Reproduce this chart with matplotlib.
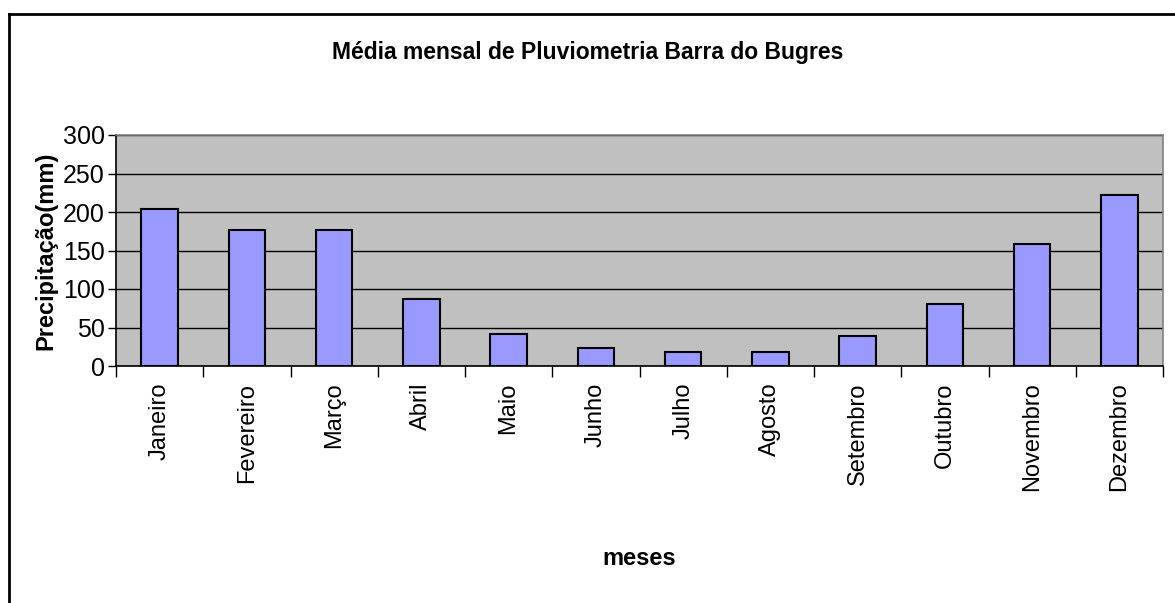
import matplotlib
matplotlib.use('Agg')
import numpy as np
from matplotlib import pyplot as plt
from matplotlib.lines import Line2D

## Monthly rainfall averages.
meses = ['Janeiro', 'Fevereiro', 'Março', 'Abril', 'Maio', 'Junho',
         'Julho', 'Agosto', 'Setembro', 'Outubro', 'Novembro', 'Dezembro']
precipitacao = [204, 177, 177, 87, 42, 24, 18, 18, 39, 81, 159, 222]
y_ticks = [0, 50, 100, 150, 200, 250, 300]

narrow = ['Liberation Sans Narrow', 'Liberation Sans', 'DejaVu Sans']
normal = ['Liberation Sans', 'DejaVu Sans']

fig = plt.figure(figsize=(11.75, 6.03), dpi=100)
ax = fig.add_axes([116 / 1175, 1 - 366 / 603, 1047 / 1175, 231 / 603])

x = np.arange(len(meses))
ax.bar(x, precipitacao, width=0.42, color='#9999FF', edgecolor='black',
       linewidth=1.5, zorder=3)

ax.set_facecolor('#C0C0C0')
ax.set_xlim(-0.5, len(meses) - 0.5)
ax.set_ylim(0, 300)
ax.set_yticks(y_ticks)
ax.yaxis.grid(True, color='black', linewidth=1, zorder=0)
ax.set_axisbelow(True)

## Category ticks sit between the bars, labels under each bar.
ax.set_xticks(np.arange(len(meses) + 1) - 0.5)
ax.set_xticklabels([''] * (len(meses) + 1))
ax.set_xticks(x, minor=True)
ax.set_xticklabels(meses, minor=True, rotation=90, va='top', ha='center',
                   fontsize=17, family=normal)
ax.tick_params(axis='x', which='major', length=8, width=1, color='black',
               direction='out')
ax.tick_params(axis='x', which='minor', length=0, pad=12)
ax.tick_params(axis='y', length=6, width=1, direction='out', pad=2)
for lab in ax.get_yticklabels():
    lab.set_family(narrow)
    lab.set_fontsize(18)

ax.spines['left'].set_color('black')
ax.spines['bottom'].set_color('black')
ax.spines['top'].set_color('#808080')
ax.spines['right'].set_color('#808080')
for s in ax.spines.values():
    s.set_linewidth(1.2)

ax.set_ylabel('Precipitação(mm)', fontsize=17, fontweight='bold',
              family=normal, labelpad=4)
ax.set_xlabel('meses', fontsize=17, fontweight='bold', family=narrow,
              labelpad=40)

fig.text(0.5, 1 - 52 / 603, 'Média mensal de Pluviometria Barra do Bugres',
         ha='center', va='center', fontsize=16.5, fontweight='bold',
         family=narrow)

## Chart area border: only top and left edges fall inside the picture.
fig.add_artist(Line2D([9 / 1175, 1.01], [1 - 14 / 603, 1 - 14 / 603],
                      transform=fig.transFigure, color='black', linewidth=2))
fig.add_artist(Line2D([9 / 1175, 9 / 1175], [-0.01, 1 - 14 / 603],
                      transform=fig.transFigure, color='black', linewidth=2))

fig.savefig('out.png', dpi=100)
